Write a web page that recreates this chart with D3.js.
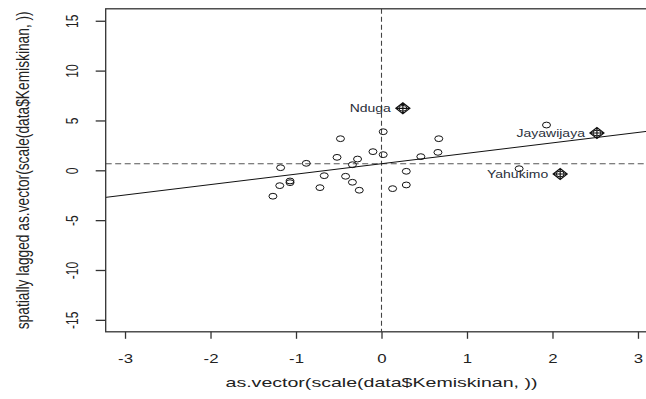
<!DOCTYPE html>
<html>
<head>
<meta charset="utf-8">
<script src="https://cdn.jsdelivr.net/npm/d3@7"></script>
<style>
	html, body { margin: 0; padding: 0; background: #fff; }
	svg { display: block; font-family: 'Liberation Sans', Arial, sans-serif; }
</style>
</head>
<body>
<div id="chart"></div>
<script>
// Standardised poverty (x) and its spatial lag (y)
const pointX = [1.93, 1.61, 0.02, -0.48, 0.67, -0.10, 0.02, -0.52, -0.28, -0.34, 0.46, 0.66, -0.88,
	-1.18, -0.67, -0.42, -0.34, -0.26, -0.72, -1.07, -1.07, -1.19, -1.27, 0.29, 0.29, 0.13];
const pointY = [4.54, 0.16, 3.87, 3.17, 3.17, 1.87, 1.57, 1.30, 1.13, 0.56, 1.37, 1.80, 0.70,
	0.26, -0.54, -0.60, -1.20, -2.00, -1.74, -1.07, -1.24, -1.54, -2.60, -0.10, -1.47, -1.84];

// Influential districts
const inflNames = ['Nduga', 'Jayawijaya', 'Yahukimo'];
const inflX = [0.25, 2.52, 2.09];
const inflY = [6.22, 3.74, -0.37];

const meanX = 0;
const meanY = 0.66;
const slope = 1.046;

const xTicks = [-3, -2, -1, 0, 1, 2, 3];
const yTicks = [-15, -10, -5, 0, 5, 10, 15];
const xLabel = 'as.vector(scale(data$Kemiskinan, ))';
const yLabel = 'spatially lagged as.vector(scale(data$Kemiskinan, ))';

const W = 646, H = 399;
const SX = 1.4; // picture is stretched horizontally
const PLOT = { left: 105.7, right: 657.3, top: 8.8, bottom: 331.8 };

const x = d3.scaleLinear().domain([-3.226, 3.226]).range([PLOT.left, PLOT.right]);
const y = d3.scaleLinear().domain([-16.2, 16.2]).range([PLOT.bottom, PLOT.top]);

const svg = d3.select('#chart').append('svg').attr('width', W).attr('height', H);

svg.append('defs').append('clipPath').attr('id', 'plot-clip')
	.append('rect')
	.attr('x', PLOT.left).attr('y', PLOT.top)
	.attr('width', PLOT.right - PLOT.left).attr('height', PLOT.bottom - PLOT.top);

const plot = svg.append('g').attr('clip-path', 'url(#plot-clip)');

// Mean lines
plot.append('line')
	.attr('x1', x(meanX)).attr('x2', x(meanX))
	.attr('y1', PLOT.top).attr('y2', PLOT.bottom)
	.attr('stroke', '#444').attr('stroke-width', 1.1)
	.attr('stroke-dasharray', '5,3');
plot.append('line')
	.attr('x1', PLOT.left).attr('x2', PLOT.right)
	.attr('y1', y(meanY)).attr('y2', y(meanY))
	.attr('stroke', '#555').attr('stroke-width', 1.1)
	.attr('stroke-dasharray', '6,3.5');

// Regression line
const [x0, x1] = x.domain();
plot.append('line')
	.attr('x1', x(x0)).attr('y1', y(meanY + slope * (x0 - meanX)))
	.attr('x2', x(x1)).attr('y2', y(meanY + slope * (x1 - meanX)))
	.attr('stroke', '#111').attr('stroke-width', 1);

// All points as open circles
const allX = pointX.concat(inflX);
const allY = pointY.concat(inflY);
plot.selectAll('.pt')
	.data(d3.range(allX.length))
	.enter()
	.append('ellipse')
	.attr('class', 'pt')
	.attr('cx', (i) => x(allX[i]))
	.attr('cy', (i) => y(allY[i]))
	.attr('rx', 4)
	.attr('ry', 2.9)
	.attr('fill', 'none')
	.attr('stroke', '#111')
	.attr('stroke-width', 1);

// Influential points: diamond with plus
const infl = plot.selectAll('.infl')
	.data(d3.range(inflNames.length))
	.enter()
	.append('g')
	.attr('class', 'infl')
	.attr('transform', (i) => `translate(${x(inflX[i])},${y(inflY[i])})`);
infl.append('path')
	.attr('d', 'M-7,0L0,-5.5L7,0L0,5.5Z M-7,0H7 M0,-5.5V5.5')
	.attr('fill', 'none')
	.attr('stroke', '#111')
	.attr('stroke-width', 1.2);
infl.append('text')
	.attr('transform', `translate(-12,3.6) scale(${SX},1)`)
	.attr('text-anchor', 'end')
	.attr('font-size', 10)
	.attr('fill', '#2a2f3a')
	.text((i) => inflNames[i]);

// Box
svg.append('rect')
	.attr('x', PLOT.left).attr('y', PLOT.top)
	.attr('width', PLOT.right - PLOT.left).attr('height', PLOT.bottom - PLOT.top)
	.attr('fill', 'none').attr('stroke', '#333').attr('stroke-width', 1.3);

// Axes
const xAxis = svg.append('g')
	.attr('transform', `translate(0,${PLOT.bottom})`)
	.call(d3.axisBottom(x).tickValues(xTicks).tickSize(7).tickSizeOuter(0).tickFormat((d) => String(d)));
xAxis.select('.domain').remove();
xAxis.selectAll('line').attr('stroke', '#333').attr('stroke-width', 1.3);
xAxis.selectAll('text')
	.attr('y', 0).attr('dy', 0)
	.attr('transform', `translate(0,31) scale(${SX},1)`)
	.attr('font-size', 12)
	.attr('font-family', null)
	.attr('fill', '#222');

const yAxis = svg.append('g')
	.attr('transform', `translate(${PLOT.left},0)`)
	.call(d3.axisLeft(y).tickValues(yTicks).tickSize(10).tickSizeOuter(0).tickFormat((d) => String(d)));
yAxis.select('.domain').remove();
yAxis.selectAll('line').attr('stroke', '#333').attr('stroke-width', 1.3);
yAxis.selectAll('text')
	.attr('x', 0).attr('dy', 0)
	.attr('text-anchor', 'middle')
	.attr('transform', `translate(${78 - PLOT.left},0) scale(${SX},1) rotate(-90)`)
	.attr('font-size', 12)
	.attr('font-family', null)
	.attr('fill', '#222');

// Axis titles
svg.append('text')
	.attr('transform', `translate(${x(0)},387) scale(${SX},1)`)
	.attr('text-anchor', 'middle')
	.attr('font-size', 13)
	.attr('textLength', 312 / SX)
	.attr('lengthAdjust', 'spacingAndGlyphs')
	.attr('fill', '#222')
	.text(xLabel);
svg.append('text')
	.attr('transform', `translate(29,${(PLOT.top + PLOT.bottom) / 2}) scale(${SX},1) rotate(-90)`)
	.attr('text-anchor', 'middle')
	.attr('font-size', 13)
	.attr('textLength', 318)
	.attr('lengthAdjust', 'spacingAndGlyphs')
	.attr('fill', '#222')
	.text(yLabel);
</script>
</body>
</html>
